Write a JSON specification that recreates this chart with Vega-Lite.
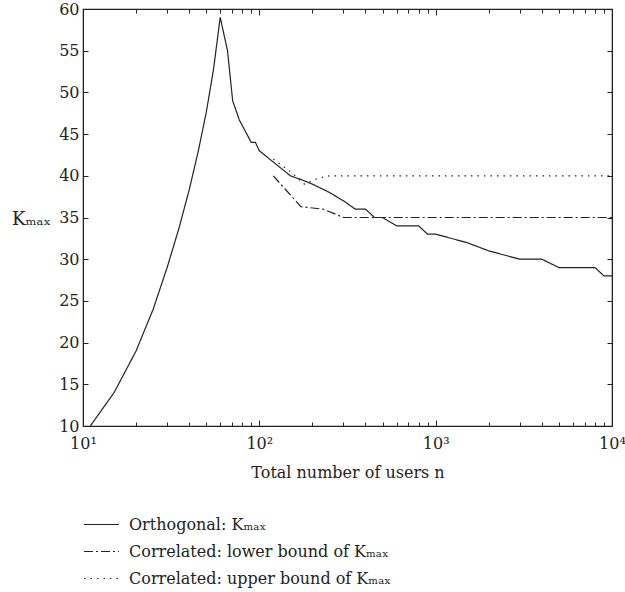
{
  "$schema": "https://vega.github.io/schema/vega-lite/v6.json",
  "width": 529,
  "height": 417,
  "autosize": "none",
  "padding": {"left": 83, "top": 9, "right": 13, "bottom": 166},
  "background": "white",
  "config": {
    "font": "DejaVu Serif",
    "view": {"stroke": "#222", "strokeWidth": 1.2},
    "axis": {"labelFont": "DejaVu Serif", "titleFont": "DejaVu Serif", "labelFontSize": 16, "titleFontSize": 16, "labelColor": "#222", "titleColor": "#222", "titleFontWeight": "normal", "domainColor": "#222", "tickColor": "#222", "grid": false},
    "legend": {"labelFont": "DejaVu Serif", "labelFontSize": 16, "labelColor": "#222", "labelLimit": 0}
  },
  "data": {"values": [
    {"n": 11, "k": 10, "s": "Orthogonal: Kₘₐₓ"},
    {"n": 15, "k": 14, "s": "Orthogonal: Kₘₐₓ"},
    {"n": 20, "k": 19, "s": "Orthogonal: Kₘₐₓ"},
    {"n": 25, "k": 24, "s": "Orthogonal: Kₘₐₓ"},
    {"n": 30, "k": 29, "s": "Orthogonal: Kₘₐₓ"},
    {"n": 35, "k": 33.7, "s": "Orthogonal: Kₘₐₓ"},
    {"n": 40, "k": 38.3, "s": "Orthogonal: Kₘₐₓ"},
    {"n": 45, "k": 42.9, "s": "Orthogonal: Kₘₐₓ"},
    {"n": 50, "k": 47.6, "s": "Orthogonal: Kₘₐₓ"},
    {"n": 55, "k": 52.8, "s": "Orthogonal: Kₘₐₓ"},
    {"n": 60, "k": 59, "s": "Orthogonal: Kₘₐₓ"},
    {"n": 66, "k": 55, "s": "Orthogonal: Kₘₐₓ"},
    {"n": 70.6, "k": 49, "s": "Orthogonal: Kₘₐₓ"},
    {"n": 77, "k": 46.7, "s": "Orthogonal: Kₘₐₓ"},
    {"n": 90, "k": 44, "s": "Orthogonal: Kₘₐₓ"},
    {"n": 95, "k": 44, "s": "Orthogonal: Kₘₐₓ"},
    {"n": 100, "k": 43, "s": "Orthogonal: Kₘₐₓ"},
    {"n": 150, "k": 40, "s": "Orthogonal: Kₘₐₓ"},
    {"n": 175, "k": 39.5, "s": "Orthogonal: Kₘₐₓ"},
    {"n": 200, "k": 39, "s": "Orthogonal: Kₘₐₓ"},
    {"n": 250, "k": 38, "s": "Orthogonal: Kₘₐₓ"},
    {"n": 300, "k": 37, "s": "Orthogonal: Kₘₐₓ"},
    {"n": 350, "k": 36, "s": "Orthogonal: Kₘₐₓ"},
    {"n": 400, "k": 36, "s": "Orthogonal: Kₘₐₓ"},
    {"n": 450, "k": 35, "s": "Orthogonal: Kₘₐₓ"},
    {"n": 500, "k": 35, "s": "Orthogonal: Kₘₐₓ"},
    {"n": 600, "k": 34, "s": "Orthogonal: Kₘₐₓ"},
    {"n": 800, "k": 34, "s": "Orthogonal: Kₘₐₓ"},
    {"n": 900, "k": 33, "s": "Orthogonal: Kₘₐₓ"},
    {"n": 1000, "k": 33, "s": "Orthogonal: Kₘₐₓ"},
    {"n": 1500, "k": 32, "s": "Orthogonal: Kₘₐₓ"},
    {"n": 2000, "k": 31, "s": "Orthogonal: Kₘₐₓ"},
    {"n": 3000, "k": 30, "s": "Orthogonal: Kₘₐₓ"},
    {"n": 4000, "k": 30, "s": "Orthogonal: Kₘₐₓ"},
    {"n": 5000, "k": 29, "s": "Orthogonal: Kₘₐₓ"},
    {"n": 8000, "k": 29, "s": "Orthogonal: Kₘₐₓ"},
    {"n": 9000, "k": 28, "s": "Orthogonal: Kₘₐₓ"},
    {"n": 10000, "k": 28, "s": "Orthogonal: Kₘₐₓ"},
    {"n": 120, "k": 40, "s": "Correlated: lower bound of Kₘₐₓ"},
    {"n": 172, "k": 36.3, "s": "Correlated: lower bound of Kₘₐₓ"},
    {"n": 230, "k": 36, "s": "Correlated: lower bound of Kₘₐₓ"},
    {"n": 300, "k": 35, "s": "Correlated: lower bound of Kₘₐₓ"},
    {"n": 10000, "k": 35, "s": "Correlated: lower bound of Kₘₐₓ"},
    {"n": 120, "k": 42, "s": "Correlated: upper bound of Kₘₐₓ"},
    {"n": 150, "k": 40.5, "s": "Correlated: upper bound of Kₘₐₓ"},
    {"n": 180, "k": 39, "s": "Correlated: upper bound of Kₘₐₓ"},
    {"n": 215, "k": 39.7, "s": "Correlated: upper bound of Kₘₐₓ"},
    {"n": 250, "k": 40, "s": "Correlated: upper bound of Kₘₐₓ"},
    {"n": 10000, "k": 40, "s": "Correlated: upper bound of Kₘₐₓ"}
  ]},
  "layer": [
    {
      "mark": {"type": "line", "color": "#222", "strokeWidth": 1.2},
      "encoding": {
        "x": {"field": "n", "type": "quantitative", "scale": {"type": "log", "domain": [10, 10000], "nice": false},
          "axis": {"orient": "bottom", "title": "Total number of users n", "titlePadding": 11,
            "values": [10,20,30,40,50,60,70,80,90,100,200,300,400,500,600,700,800,900,1000,2000,3000,4000,5000,6000,7000,8000,9000,10000],
            "labelExpr": "datum.value == 10 ? '10¹' : datum.value == 100 ? '10²' : datum.value == 1000 ? '10³' : datum.value == 10000 ? '10⁴' : ''",
            "tickSize": {"condition": {"test": "datum.value == 10 || datum.value == 100 || datum.value == 1000 || datum.value == 10000", "value": -6}, "value": -4},
            "labelPadding": 15, "labelFlush": false, "labelOverlap": false}},
        "y": {"field": "k", "type": "quantitative", "scale": {"domain": [10, 60], "nice": false, "zero": false},
          "axis": {"orient": "left", "title": "Kₘₐₓ", "titleAngle": 0, "titleAlign": "center", "titleBaseline": "middle", "titleX": -52, "titleY": 210, "titleFontSize": 18,
            "values": [10,15,20,25,30,35,40,45,50,55,60], "tickSize": -5, "labelPadding": 9}},
        "strokeDash": {"field": "s", "type": "nominal",
          "scale": {"domain": ["Orthogonal: Kₘₐₓ", "Correlated: lower bound of Kₘₐₓ", "Correlated: upper bound of Kₘₐₓ"], "range": [[1, 0], [9, 3, 2, 3], [1.5, 5]]},
          "legend": {"title": null, "orient": "none", "legendX": 0, "legendY": 497, "symbolType": "stroke", "symbolSize": 1225, "symbolStrokeColor": "#222", "symbolStrokeWidth": 1.2, "rowPadding": -13, "labelOffset": 9}}
      }
    },
    {
      "mark": {"type": "line", "opacity": 0},
      "encoding": {
        "x": {"field": "n", "type": "quantitative",
          "axis": {"orient": "top", "title": null, "labels": false,
            "values": [10,20,30,40,50,60,70,80,90,100,200,300,400,500,600,700,800,900,1000,2000,3000,4000,5000,6000,7000,8000,9000,10000],
            "tickSize": {"condition": {"test": "datum.value == 10 || datum.value == 100 || datum.value == 1000 || datum.value == 10000", "value": -6}, "value": -4}}},
        "y": {"field": "k", "type": "quantitative",
          "axis": {"orient": "right", "title": null, "labels": false, "values": [10,15,20,25,30,35,40,45,50,55,60], "tickSize": -5}},
        "detail": {"field": "s"}
      }
    }
  ],
  "resolve": {"axis": {"x": "independent", "y": "independent"}}
}
